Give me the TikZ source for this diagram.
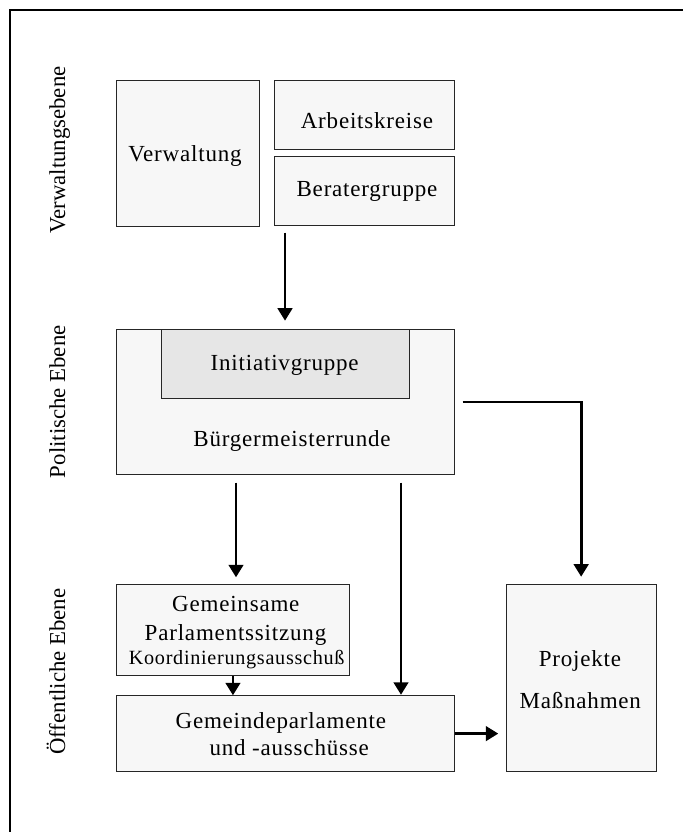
\documentclass[tikz,border=0pt]{standalone}
\usepackage{fontspec}
\setmainfont{Liberation Serif}
\newfontfamily\boxfont{Liberation Serif}[LetterSpace=3.5]
\usetikzlibrary{arrows.meta}
\definecolor{boxgray}{HTML}{F7F7F7}
\definecolor{initgray}{HTML}{E6E6E6}
\begin{document}
\begin{tikzpicture}[x=1pt,y=-1pt,
  box/.style={draw=black!85, line width=0.9pt, fill=boxgray, inner sep=0pt, anchor=north west},
  txt/.style={anchor=base, inner sep=0pt, font=\boxfont\fontsize{23}{27}\selectfont},
  smalltxt/.style={anchor=base, inner sep=0pt, font=\boxfont\fontsize{20.2}{25}\selectfont},
  side/.style={anchor=base, rotate=90, inner sep=0pt, font=\fontsize{22.8}{27}\selectfont},
  arr/.style={line width=2.9pt, -{Triangle[length=12.5pt,width=14.5pt]}},
  frame/.style={line width=1.6pt}]
\useasboundingbox (0,0) rectangle (683,832);
\fill[white] (0,0) rectangle (683,832);
% outer frame (cut by the page edges)
\coordinate (fbl) at (10,832);
\coordinate (ftl) at (10,10);
\coordinate (ftr) at (683,10);
\draw[frame] (fbl) -- (ftl) -- (ftr);

% level labels
\node[side] (lv1) at (65,150) {Verwaltungsebene};
\node[side] (lv2) at (65,401.7) {Politische Ebene};
\node[side] (lv3) at (65,671.7) {Öffentliche Ebene};

% boxes
\node[box, minimum width=142.7pt, minimum height=145.4pt] (verw) at (116.3,80.3) {};
\node[box, minimum width=180.2pt, minimum height=69pt] (ak) at (273.5,80.3) {};
\node[box, minimum width=180.2pt, minimum height=69pt] (ber) at (273.5,156.3) {};
\node[box, minimum width=337.4pt, minimum height=145pt] (buerg) at (116.3,329) {};
\node[box, fill=initgray, minimum width=247.4pt, minimum height=69.3pt] (init) at (161.3,329) {};
\node[box, minimum width=232.4pt, minimum height=90.7pt] (gem) at (116.3,584.3) {};
\node[box, minimum width=337.4pt, minimum height=75.7pt] (gpar) at (116.3,695.3) {};
\node[box, minimum width=150pt, minimum height=186.7pt] (proj) at (505.7,584.3) {};

% texts
\node[txt] (tverw) at (185,161.7) {Verwaltung};
\node[txt] (tak) at (367,128.3) {Arbeitskreise};
\node[txt] (tber) at (367,196.7) {Beratergruppe};
\node[txt] (tinit) at (284.7,370) {Initiativgruppe};
\node[txt] (tbuerg) at (292,446) {Bürgermeisterrunde};
\node[txt] (tgem1) at (235.8,611.7) {Gemeinsame};
\node[txt] (tgem2) at (235.5,640) {Parlamentssitzung};
\node[smalltxt] (tgem3) at (236.7,664) {Koordinierungsausschuß};
\node[txt] (tgpar1) at (280.8,728.3) {Gemeindeparlamente};
\node[txt] (tgpar2) at (289.2,755) {und -ausschüsse};
\node[txt] (tproj1) at (580,666.7) {Projekte};
\node[txt] (tproj2) at (580.3,708.3) {Maßnahmen};

% connectors
\draw[arr, shorten <=6.4pt, shorten >=8.3pt] ([xshift=11.5pt]ber.south west) -- ([xshift=11.5pt]ber.south west |- buerg.north);
\draw[arr, shorten <=8pt, shorten >=7.6pt] (buerg.east) -| (proj.north);
\draw[arr, shorten <=7.7pt, shorten >=7pt] ([xshift=119.7pt]buerg.south west) -- ([xshift=119.7pt]buerg.south west |- gem.north);
\draw[arr, shorten <=7.7pt, shorten >=0.5pt] ([xshift=284.7pt]buerg.south west) -- ([xshift=284.7pt]buerg.south west |- gpar.north);
\draw[arr] (gem.south) -- (gem.south |- gpar.north);
\draw[arr, shorten >=7.4pt] (gpar.east) -- (gpar.east -| proj.west);
\end{tikzpicture}
\end{document}
